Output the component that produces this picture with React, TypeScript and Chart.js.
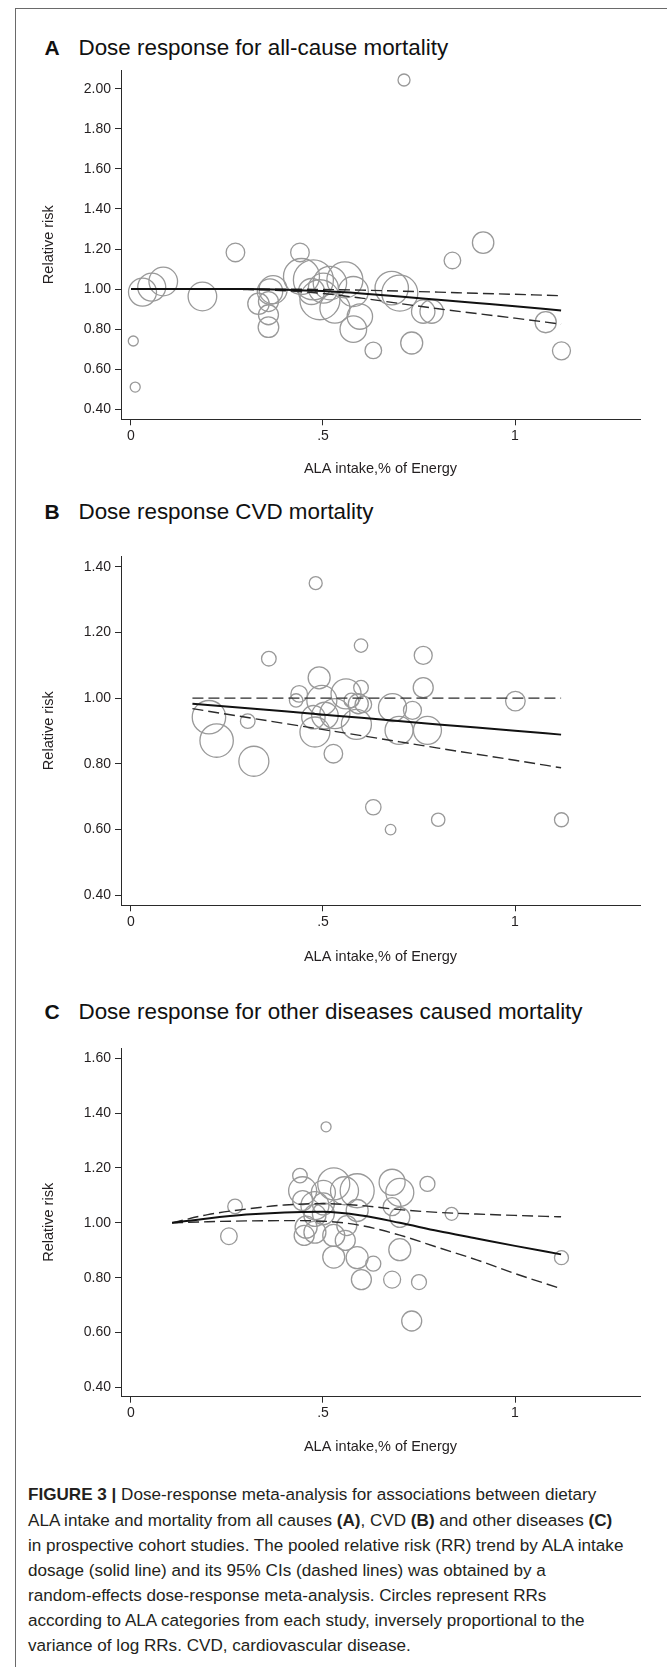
import React, { useEffect, useRef } from 'react';
import { Chart, registerables } from 'chart.js';

Chart.register(...registerables);

const FONT = '"Liberation Sans", Arial, Helvetica, sans-serif';
Chart.defaults.font.family = FONT;

// ---------- shared axis content ----------
const X_TICKS = [0, 0.5, 1];
const X_TICK_LABELS = ['0', '.5', '1'];
const X_TITLE = 'ALA intake,% of Energy';
const Y_TITLE = 'Relative risk';

// ---------- Panel A: all-cause mortality ----------
const A_TITLE = 'Dose response for all-cause mortality';
const A_Y_TICKS = [0.4, 0.6, 0.8, 1.0, 1.2, 1.4, 1.6, 1.8, 2.0];
const A_INTAKE = [0.006, 0.011, 0.030, 0.054, 0.084, 0.186, 0.272, 0.332, 0.362, 0.370, 0.358, 0.358, 0.358, 0.440, 0.444, 0.475, 0.492, 0.470, 0.501, 0.518, 0.557, 0.531, 0.579, 0.596, 0.579, 0.631, 0.679, 0.700, 0.731, 0.761, 0.783, 0.837, 0.917, 1.080, 1.121, 0.711];
const A_RR = [0.741, 0.511, 0.985, 1.010, 1.038, 0.963, 1.183, 0.927, 0.988, 0.997, 0.938, 0.872, 0.810, 1.183, 1.063, 1.046, 0.947, 0.988, 1.005, 1.030, 1.046, 0.905, 0.988, 0.863, 0.800, 0.694, 1.005, 0.980, 0.731, 0.888, 0.888, 1.143, 1.232, 0.835, 0.692, 2.044];
const A_WEIGHT = [5, 5, 14, 14, 14.3, 14.3, 9.3, 10.7, 12.7, 14, 10, 10, 10.3, 9.3, 18, 20, 20, 13, 15, 16.7, 18, 15, 15, 12.7, 13.3, 8.3, 16.7, 18, 11, 11.7, 11.7, 8.3, 10.7, 10.6, 9, 6];
const A_FIT_X = [0, 0.1, 0.2, 0.3, 0.4, 0.5, 0.6, 0.7, 0.8, 0.9, 1.0, 1.12];
const A_FIT = [1.0, 1.0, 1.0, 1.0, 0.997, 0.99, 0.978, 0.963, 0.947, 0.931, 0.915, 0.893];
const A_UPPER = [1.0, 1.0, 1.0, 1.0, 1.0, 0.998, 0.995, 0.99, 0.985, 0.979, 0.974, 0.967];
const A_LOWER = [1.0, 1.0, 1.0, 0.998, 0.992, 0.978, 0.955, 0.928, 0.902, 0.878, 0.855, 0.825];

// ---------- Panel B: CVD mortality ----------
const B_TITLE = 'Dose response CVD mortality';
const B_Y_TICKS = [0.4, 0.6, 0.8, 1.0, 1.2, 1.4];
const B_INTAKE = [0.359, 0.203, 0.223, 0.304, 0.320, 0.490, 0.438, 0.430, 0.497, 0.475, 0.479, 0.527, 0.505, 0.560, 0.531, 0.599, 0.599, 0.592, 0.605, 0.587, 0.574, 0.681, 0.733, 0.698, 0.772, 0.761, 0.761, 1.001, 0.631, 0.676, 0.800, 1.121, 0.481];
const B_RR = [1.12, 0.942, 0.871, 0.93, 0.808, 1.062, 1.013, 0.993, 0.993, 0.942, 0.897, 0.831, 0.947, 1.013, 0.953, 1.16, 1.032, 0.983, 0.981, 0.92, 0.993, 0.971, 0.963, 0.902, 0.902, 1.13, 1.032, 0.991, 0.668, 0.60, 0.63, 0.63, 1.35];
const B_WEIGHT = [7.3, 16.7, 16.7, 7.3, 15, 11, 8.3, 6.7, 15, 11.7, 15, 9.3, 13.3, 15, 15, 6.7, 7.3, 10, 8.3, 15, 7.3, 14, 9, 14, 14, 9, 10, 9.8, 7.7, 5.3, 6.7, 7, 6.5];
const B_FIT_X = [0.16, 0.4, 0.6, 0.8, 1.0, 1.12];
const B_FIT = [0.983, 0.96, 0.94, 0.92, 0.901, 0.889];
const B_UPPER = [1.0, 1.0, 1.0, 1.0, 1.0, 1.0];
const B_LOWER = [0.968, 0.923, 0.886, 0.848, 0.811, 0.788];

// ---------- Panel C: other diseases ----------
const C_TITLE = 'Dose response for other diseases caused mortality';
const C_Y_TICKS = [0.4, 0.6, 0.8, 1.0, 1.2, 1.4, 1.6];
const C_INTAKE = [0.271, 0.255, 0.508, 0.440, 0.447, 0.447, 0.479, 0.501, 0.528, 0.556, 0.589, 0.501, 0.479, 0.456, 0.479, 0.451, 0.528, 0.562, 0.589, 0.558, 0.528, 0.589, 0.631, 0.600, 0.680, 0.700, 0.680, 0.700, 0.700, 0.680, 0.750, 0.731, 0.772, 0.835, 1.121, 0.501];
const C_RR = [1.06, 0.951, 1.35, 1.172, 1.117, 1.081, 1.063, 1.111, 1.142, 1.117, 1.117, 1.033, 1.027, 0.984, 0.966, 0.954, 0.954, 0.99, 1.045, 0.936, 0.875, 0.873, 0.851, 0.793, 1.148, 1.111, 1.059, 1.02, 0.902, 0.793, 0.784, 0.642, 1.142, 1.033, 0.873, 1.069];
const C_WEIGHT = [7.3, 8.3, 5, 7.3, 14, 10, 14, 12, 16, 14, 17, 11, 11, 11, 11, 10, 11, 10, 11, 10, 11, 11, 7.5, 10, 13, 14, 9, 10, 11, 8.5, 7.5, 10, 7.5, 6.5, 7, 11];
const C_FIT_X = [0.107, 0.2, 0.3, 0.4, 0.5, 0.6, 0.7, 0.8, 0.9, 1.0, 1.12];
const C_FIT = [1.0, 1.016, 1.03, 1.038, 1.04, 1.027, 1.0, 0.97, 0.943, 0.916, 0.885];
const C_UPPER = [1.0, 1.03, 1.05, 1.065, 1.07, 1.063, 1.048, 1.038, 1.032, 1.027, 1.022];
const C_LOWER = [1.0, 1.004, 1.007, 1.008, 1.006, 0.99, 0.955, 0.91, 0.865, 0.815, 0.76];

type PanelCfg = {
  top: number; height: number; axisTop: number; axisY: number; xTitleY: number;
  xMin: number; xMax: number; yMin: number; yMax: number; yTicks: number[];
  intake: number[]; rr: number[]; weight: number[];
  fitX: number[]; fit: number[]; upper: number[]; lower: number[];
};

const X_MIN = -0.026;
const X_MAX = 1.3255;

const PANELS: PanelCfg[] = [
  { top: 55, height: 425, axisTop: 70, axisY: 419.3, xTitleY: 469.3, xMin: X_MIN, xMax: X_MAX, yMin: 0.35, yMax: 2.094, yTicks: A_Y_TICKS,
    intake: A_INTAKE, rr: A_RR, weight: A_WEIGHT, fitX: A_FIT_X, fit: A_FIT, upper: A_UPPER, lower: A_LOWER },
  { top: 541, height: 427, axisTop: 556, axisY: 905.3, xTitleY: 956.7, xMin: X_MIN, xMax: X_MAX, yMin: 0.3696, yMax: 1.4326, yTicks: B_Y_TICKS,
    intake: B_INTAKE, rr: B_RR, weight: B_WEIGHT, fitX: B_FIT_X, fit: B_FIT, upper: B_UPPER, lower: B_LOWER },
  { top: 1033, height: 425, axisTop: 1048, axisY: 1396.7, xTitleY: 1447.3, xMin: X_MIN, xMax: X_MAX, yMin: 0.366, yMax: 1.6375, yTicks: C_Y_TICKS,
    intake: C_INTAKE, rr: C_RR, weight: C_WEIGHT, fitX: C_FIT_X, fit: C_FIT, upper: C_UPPER, lower: C_LOWER },
];

const AXIS_COLOR = '#2a2a2a';
const TEXT_COLOR = '#231f20';

function Panel({ cfg }: { cfg: PanelCfg }) {
  const ref = useRef<HTMLCanvasElement>(null);
  useEffect(() => {
    const canvas = ref.current;
    if (!canvas) return;
    const titleLH = 14.5 * 1.2;
    const chart = new Chart(canvas, {
      type: 'bubble',
      data: {
        datasets: [
          {
            type: 'line',
            data: cfg.fitX.map((x, i) => ({ x, y: cfg.fit[i] })),
            borderColor: '#111',
            borderWidth: 2,
            pointRadius: 0,
            cubicInterpolationMode: 'monotone',
            fill: false,
            order: 0,
          } as any,
          {
            type: 'line',
            data: cfg.fitX.map((x, i) => ({ x, y: cfg.upper[i] })),
            borderColor: '#2b2b2b',
            borderWidth: 1.4,
            borderDash: [11, 5],
            pointRadius: 0,
            cubicInterpolationMode: 'monotone',
            fill: false,
            order: 1,
          } as any,
          {
            type: 'line',
            data: cfg.fitX.map((x, i) => ({ x, y: cfg.lower[i] })),
            borderColor: '#2b2b2b',
            borderWidth: 1.4,
            borderDash: [11, 5],
            pointRadius: 0,
            cubicInterpolationMode: 'monotone',
            fill: false,
            order: 1,
          } as any,
          {
            type: 'bubble',
            data: cfg.intake.map((x, i) => ({ x, y: cfg.rr[i], r: cfg.weight[i] })),
            backgroundColor: 'rgba(0,0,0,0)',
            borderColor: '#999999',
            borderWidth: 1.3,
            clip: false,
            order: 5,
          } as any,
        ],
      },
      options: {
        responsive: false,
        animation: false,
        events: [],
        layout: {
          autoPadding: false,
          padding: { left: 0, right: 27, top: cfg.axisTop - cfg.top, bottom: 0 },
        },
        plugins: { legend: { display: false }, tooltip: { enabled: false }, title: { display: false } },
        scales: {
          x: {
            type: 'linear',
            position: 'bottom',
            min: cfg.xMin,
            max: cfg.xMax,
            afterBuildTicks: (s: any) => { s.ticks = X_TICKS.map((v) => ({ value: v })); },
            afterFit: (s: any) => { s.height = cfg.height - (cfg.axisY - cfg.top); },
            ticks: {
              callback: (_v: any, i: number) => X_TICK_LABELS[i],
              font: { size: 14, family: FONT },
              color: TEXT_COLOR,
              padding: 2,
              autoSkip: false,
              maxRotation: 0,
              minRotation: 0,
            },
            grid: { display: true, drawOnChartArea: false, drawTicks: true, tickLength: 6, color: AXIS_COLOR, lineWidth: 1 },
            border: { display: true, color: AXIS_COLOR, width: 1 },
            title: {
              display: true,
              text: X_TITLE,
              font: { size: 14.5, family: FONT },
              color: TEXT_COLOR,
              padding: { top: 0, bottom: cfg.top + cfg.height - cfg.xTitleY - titleLH / 2 },
            },
          },
          y: {
            type: 'linear',
            position: 'left',
            min: cfg.yMin,
            max: cfg.yMax,
            afterBuildTicks: (s: any) => { s.ticks = cfg.yTicks.map((v) => ({ value: v })); },
            afterFit: (s: any) => { s.width = 121; },
            ticks: {
              callback: (v: any) => Number(v).toFixed(2),
              font: { size: 14, family: FONT },
              color: TEXT_COLOR,
              padding: 4,
              autoSkip: false,
            },
            grid: { display: true, drawOnChartArea: false, drawTicks: true, tickLength: 6, color: AXIS_COLOR, lineWidth: 1 },
            border: { display: true, color: AXIS_COLOR, width: 1 },
            title: {
              display: true,
              text: Y_TITLE,
              font: { size: 14.5, family: FONT },
              color: TEXT_COLOR,
              padding: { top: 49 - titleLH / 2, bottom: 0 },
            },
          },
        },
      } as any,
    });
    return () => chart.destroy();
  }, [cfg]);
  return (
    <canvas
      ref={ref}
      width={667}
      height={cfg.height}
      style={{ position: 'absolute', left: 0, top: cfg.top, width: 667, height: cfg.height }}
    />
  );
}

function PanelTitle({ letter, text, capCenter }: { letter: string; text: string; capCenter: number }) {
  const size = 22.4;
  const top = capCenter - size / 2;
  const common: React.CSSProperties = {
    position: 'absolute', top, fontSize: size, lineHeight: `${size}px`, whiteSpace: 'nowrap', color: '#111', fontFamily: FONT,
  };
  return (
    <>
      <div style={{ ...common, left: 44.5, fontWeight: 'bold', fontSize: 21 }}>{letter}</div>
      <div style={{ ...common, left: 78.5 }}>{text}</div>
    </>
  );
}

const CAPTION_LINES: React.ReactNode[] = [
  <><b>FIGURE 3 |</b> Dose-response meta-analysis for associations between dietary</>,
  <>ALA intake and mortality from all causes <b>(A)</b>, CVD <b>(B)</b> and other diseases <b>(C)</b></>,
  <>in prospective cohort studies. The pooled relative risk (RR) trend by ALA intake</>,
  <>dosage (solid line) and its 95% CIs (dashed lines) was obtained by a</>,
  <>random-effects dose-response meta-analysis. Circles represent RRs</>,
  <>according to ALA categories from each study, inversely proportional to the</>,
  <>variance of log RRs. CVD, cardiovascular disease.</>,
];

const CAPTION_SIZE = 17.1;

export default function App() {
  return (
    <div style={{ position: 'absolute', left: 0, top: 0, width: 667, height: 1667, background: '#fff', overflow: 'hidden', fontFamily: FONT }}>
      <div style={{ position: 'absolute', left: 15, top: 8, width: 700, height: 1700, borderTop: '1px solid #6a6a6a', borderLeft: '1px solid #6a6a6a' }} />
      <PanelTitle letter="A" text={A_TITLE} capCenter={48.3} />
      <PanelTitle letter="B" text={B_TITLE} capCenter={512} />
      <PanelTitle letter="C" text={C_TITLE} capCenter={1012} />
      {PANELS.map((p, i) => <Panel key={i} cfg={p} />)}
      <div style={{ position: 'absolute', left: 28, top: 1497.5 - 12.55 - (25.1 - 1.117 * CAPTION_SIZE) / 2 + 0.5, fontSize: CAPTION_SIZE, lineHeight: '25.1px', color: TEXT_COLOR, fontFamily: FONT }}>
        {CAPTION_LINES.map((l, i) => (
          <div key={i} style={{ whiteSpace: 'nowrap' }}>{l}</div>
        ))}
      </div>
    </div>
  );
}
